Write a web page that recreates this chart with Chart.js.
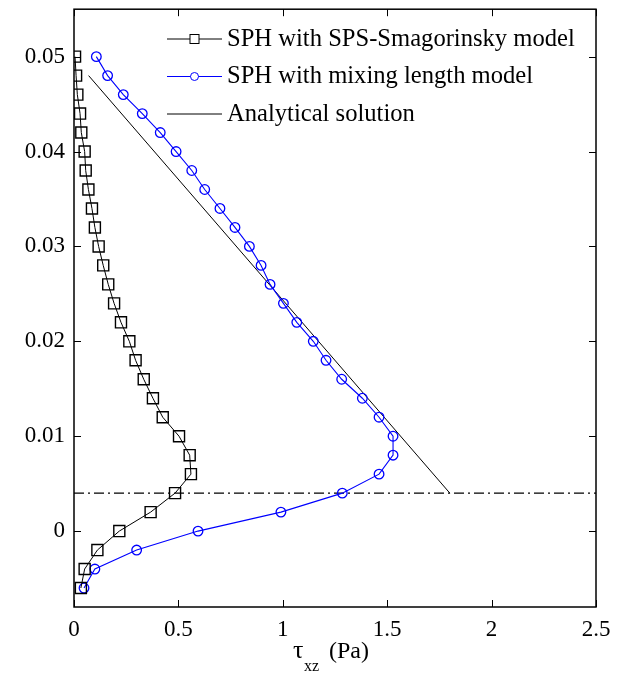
<!DOCTYPE html>
<html>
<head>
<meta charset="utf-8">
<script src="https://cdn.jsdelivr.net/npm/chart.js@4/dist/chart.umd.min.js"></script>
<style>
html,body{margin:0;padding:0;background:#fff;}
#wrap{width:620px;height:673px;position:relative;}
</style>
</head>
<body>
<div id="wrap"><canvas id="c" width="620" height="673"></canvas></div>
<script>
// ---- data ----
const depthZ = [-0.006,-0.004,-0.002,0,0.002,0.004,0.006,0.008,0.010,0.012,0.014,0.016,0.018,0.020,0.022,0.024,0.026,0.028,0.030,0.032,0.034,0.036,0.038,0.040,0.042,0.044,0.046,0.048,0.050];
const tauSmagorinsky = [0.033,0.051,0.112,0.217,0.367,0.484,0.560,0.554,0.503,0.425,0.378,0.334,0.295,0.265,0.225,0.192,0.164,0.140,0.118,0.100,0.086,0.069,0.056,0.051,0.035,0.029,0.016,0.010,0.005];
const tauMixing = [0.048,0.100,0.300,0.594,0.991,1.285,1.461,1.528,1.528,1.461,1.381,1.282,1.207,1.146,1.067,1.003,0.939,0.896,0.840,0.771,0.699,0.626,0.564,0.489,0.413,0.327,0.236,0.161,0.107];
const analyticalTau = [0.07, 1.80];
const analyticalZ = [0.048, 0.004];
const refLineTau = [0, 2.5];
const refLineZ = [0.004, 0.004];
const xTicks = [0,0.5,1,1.5,2,2.5];
const yTicks = [0,0.01,0.02,0.03,0.04,0.05];
const seriesLabels = ['SPH with SPS-Smagorinsky model','SPH with mixing length model','Analytical solution'];

const pts = (xs, ys) => xs.map((x,i)=>({x:x, y:ys[i]}));
const SERIF = '"Liberation Serif","DejaVu Serif",serif';

const framePlugin = {
  id:'frame',
  afterDatasetsDraw(chart){
    const {ctx, chartArea:a, scales:{x,y}} = chart;
    ctx.save();
    ctx.strokeStyle='#000';
    ctx.lineWidth=1.5;
    ctx.strokeRect(a.left, a.top, a.right-a.left, a.bottom-a.top);
    ctx.lineWidth=1;
    const L=7;
    ctx.beginPath();
    xTicks.forEach(v=>{
      const px=Math.round(x.getPixelForValue(v))+0.5;
      ctx.moveTo(px,a.bottom); ctx.lineTo(px,a.bottom-L);
      ctx.moveTo(px,a.top); ctx.lineTo(px,a.top+L);
    });
    yTicks.forEach(v=>{
      const py=Math.round(y.getPixelForValue(v))+0.5;
      ctx.moveTo(a.left,py); ctx.lineTo(a.left+L,py);
      ctx.moveTo(a.right,py); ctx.lineTo(a.right-L,py);
    });
    ctx.stroke();
    // x-axis title with subscript
    ctx.fillStyle='#000';
    ctx.textBaseline='alphabetic';
    ctx.textAlign='left';
    ctx.font='26px '+SERIF;
    ctx.fillText('τ',293,658);
    ctx.font='16px '+SERIF;
    ctx.fillText('xz',304,671);
    ctx.font='24px '+SERIF;
    ctx.fillText('(Pa)',329,658);
    // legend
    const rows=[45.5,83,120.5];
    const ds=chart.data.datasets;
    for(let i=0;i<3;i++){
      const yy=rows[i]-6.5;
      ctx.strokeStyle=ds[i].borderColor;
      ctx.lineWidth=1;
      ctx.beginPath(); ctx.moveTo(167,yy); ctx.lineTo(222,yy); ctx.stroke();
      if(i===0){
        ctx.fillStyle='#fff';
        ctx.fillRect(190,yy-4.5,9,9);
        ctx.strokeRect(190,yy-4.5,9,9);
      } else if(i===1){
        ctx.fillStyle='#fff';
        ctx.beginPath(); ctx.arc(194.5,yy,4,0,Math.PI*2); ctx.fill(); ctx.stroke();
      }
      ctx.fillStyle='#000';
      ctx.font='24.6px '+SERIF;
      ctx.fillText(seriesLabels[i],227,rows[i]);
    }
    ctx.restore();
  }
};

new Chart(document.getElementById('c'),{
  type:'scatter',
  data:{datasets:[
    {label:seriesLabels[0], data:pts(tauSmagorinsky,depthZ), showLine:true, borderColor:'#000', borderWidth:1,
     pointStyle:'rect', pointRadius:7.8, pointBorderWidth:1.4, pointBackgroundColor:'rgba(0,0,0,0)', pointBorderColor:'#000'},
    {label:seriesLabels[1], data:pts(tauMixing,depthZ), showLine:true, borderColor:'#0000ff', borderWidth:1.1,
     pointStyle:'circle', pointRadius:4.8, pointBorderWidth:1.3, pointBackgroundColor:'rgba(0,0,0,0)', pointBorderColor:'#0000ff'},
    {label:seriesLabels[2], data:pts(analyticalTau,analyticalZ), showLine:true, borderColor:'#000', borderWidth:1, pointRadius:0},
    {label:'ref', data:pts(refLineTau,refLineZ), showLine:true, borderColor:'#000', borderWidth:1.2, borderDash:[10,4,2,4], pointRadius:0}
  ]},
  plugins:[framePlugin],
  options:{
    responsive:false, animation:false, devicePixelRatio:1,
    layout:{padding:{left:0,right:24,top:8,bottom:0}},
    plugins:{legend:{display:false}, tooltip:{enabled:false}},
    scales:{
      x:{type:'linear', min:0, max:2.5,
         grid:{display:false, drawTicks:false}, border:{display:false},
         afterBuildTicks(s){ s.ticks = xTicks.map(v=>({value:v})); },
         afterFit(s){ s.height=66; s.paddingLeft=0; s.paddingRight=0; },
         ticks:{padding:9, color:'#000', font:{family:SERIF, size:23}, maxRotation:0, autoSkip:false,
                callback:v=>String(v)}},
      y:{type:'linear', min:-0.008, max:0.055,
         grid:{display:false, drawTicks:false}, border:{display:false},
         afterBuildTicks(s){ s.ticks = yTicks.map(v=>({value:v})); },
         afterFit(s){ s.width=74; s.paddingTop=0; s.paddingBottom=0; },
         ticks:{padding:9, color:'#000', font:{family:SERIF, size:23}, autoSkip:false,
                callback:v=>String(Math.round(v*100)/100)}}
    }
  }
});
</script>
</body>
</html>
